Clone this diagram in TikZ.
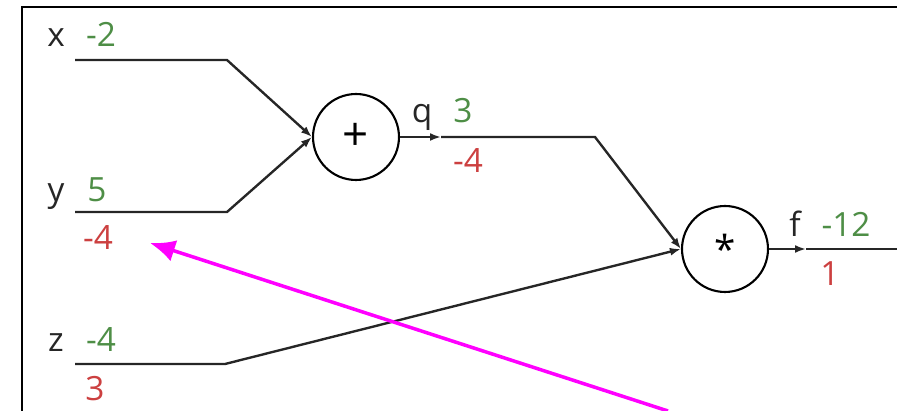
\documentclass[tikz,border=0pt]{standalone}
\usepackage{fontspec}
\setmainfont{Open Sans}
\usetikzlibrary{arrows.meta}
\definecolor{fwdgreen}{RGB}{78,142,70}
\definecolor{bwdred}{RGB}{204,64,64}
\definecolor{pointer}{RGB}{255,0,255}

\begin{document}
\begin{tikzpicture}[
  x=0.02cm, y=-0.02cm,
  gate/.style={draw, circle, line width=1.2pt, minimum size=1.72cm, inner sep=0pt, font=\fontsize{26}{28}\selectfont},
  lbl/.style={anchor=base, inner sep=0pt, font=\fontsize{19}{22}\selectfont, text=black!85},
  fwd/.style={lbl, text=fwdgreen},
  bwd/.style={lbl, text=bwdred},
  wire/.style={line width=1.35pt, black!85},
  arr/.style={wire, -{Latex[length=2.2mm, width=1.6mm]}},
  hint/.style={line width=2pt, pointer, -{Latex[length=5mm, width=4.4mm]}}
]
  \useasboundingbox (0,0) rectangle (897,411);
  \draw[line width=1.3pt] (22,411) -- (22,7) -- (897,7);

  \node[gate] (plus) at (356,137) {+};
  \node[gate] (times) at (725,249) {\fontsize{22}{24}\selectfont\raisebox{-0.35ex}{*}};

  \node[lbl] (xname) at (56,47) {x};
  \node[fwd] (xval) at (101,47) {-2};
  \node[lbl] (yname) at (56,202) {y};
  \node[fwd] (yval) at (97,202) {5};
  \node[bwd] (ygrad) at (98,250) {-4};
  \node[lbl] (zname) at (56,352) {z};
  \node[fwd] (zval) at (101,352) {-4};
  \node[bwd] (zgrad) at (95,401) {3};
  \node[lbl] (qname) at (422,123) {q};
  \node[fwd] (qval) at (463,123) {3};
  \node[bwd] (qgrad) at (468,173) {-4};
  \node[lbl] (fname) at (795,237) {f};
  \node[fwd] (fval) at (846,237) {-12};
  \node[bwd] (fgrad) at (830,286) {1};

  \coordinate (xin) at (75,60);
  \coordinate (xbend) at (227,60);
  \coordinate (yin) at (75,212);
  \coordinate (ybend) at (227,212);
  \coordinate (zin) at (75,364);
  \coordinate (zbend) at (225,364);
  \coordinate (qmid) at (441,137);
  \coordinate (qbend) at (595,137);
  \coordinate (fmid) at (806,249);
  \coordinate (fout) at (897,249);
  \coordinate (tail) at (668,411);
  \coordinate (tip) at (150,243);

  \draw[arr] (xin) -- (xbend) -- (plus.west);
  \draw[arr] (yin) -- (ybend) -- (plus.west);
  \draw[arr] (plus.east) -- (qmid);
  \draw[arr] (qmid) -- (qbend) -- (times.west);
  \draw[arr] (zin) -- (zbend) -- (times.west);
  \draw[arr] (times.east) -- (fmid);
  \draw[wire] (fmid) -- (fout);
  \draw[hint] (tail) -- (tip);
\end{tikzpicture}
\end{document}
